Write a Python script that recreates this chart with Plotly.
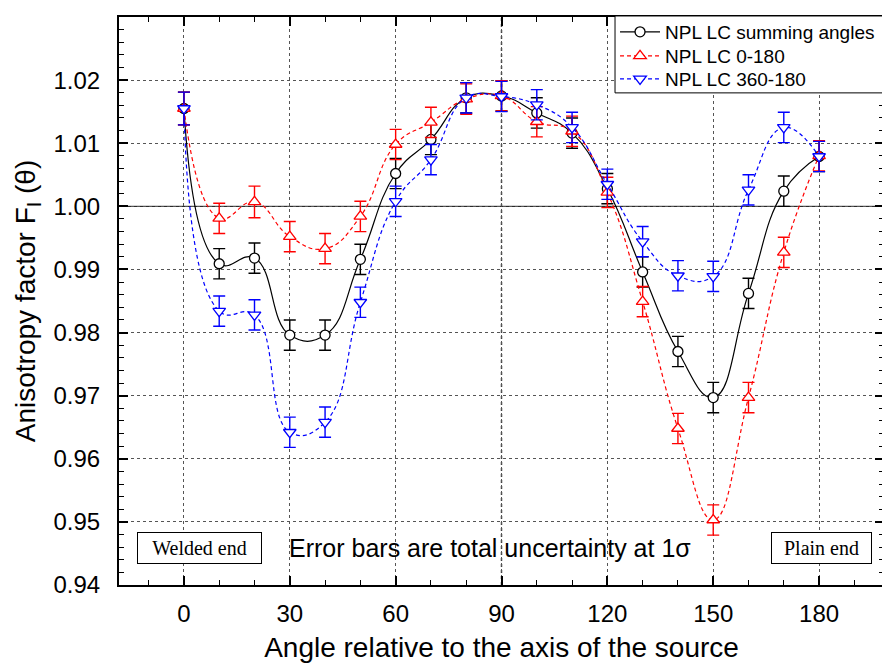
import plotly.graph_objects as go

angles = [0, 10, 20, 30, 40, 50, 60, 70, 80, 90, 100, 110, 120, 130, 140, 150, 160, 170, 180]
summing = [1.0155, 0.9909, 0.9918, 0.9796, 0.9796, 0.9916, 1.0052, 1.0106, 1.0172, 1.0175,
           1.0148, 1.0116, 1.0028, 0.9896, 0.9770, 0.9697, 0.9862, 1.0024, 1.0079]
lc_0_180 = [1.0155, 0.9981, 1.0007, 0.9952, 0.9933, 0.9984, 1.0098, 1.0133, 1.0170, 1.0175,
            1.0134, 1.0119, 1.0022, 0.9849, 0.9648, 0.9503, 0.9697, 0.9927, 1.0080]
lc_360_180 = [1.0155, 0.9834, 0.9828, 0.9642, 0.9658, 0.9848, 1.0008, 1.0074, 1.0172, 1.0174,
              1.0161, 1.0125, 1.0035, 0.9944, 0.9890, 0.9889, 1.0026, 1.0125, 1.0079]
err_summing = [0.0026, 0.0024, 0.0024, 0.0024, 0.0024, 0.0024, 0.0024, 0.0024, 0.0024, 0.0024,
               0.0024, 0.0024, 0.0024, 0.0024, 0.0024, 0.0024, 0.0024, 0.0024, 0.0024]
err_0_180 = [0.0026, 0.0024, 0.0025, 0.0024, 0.0024, 0.0024, 0.0024, 0.0024, 0.0024, 0.0024,
             0.0024, 0.0024, 0.0024, 0.0024, 0.0024, 0.0024, 0.0024, 0.0024, 0.0024]
err_360_180 = [0.0026, 0.0024, 0.0024, 0.0024, 0.0024, 0.0024, 0.0024, 0.0024, 0.0024, 0.0024,
               0.0024, 0.0024, 0.0024, 0.0024, 0.0024, 0.0024, 0.0024, 0.0024, 0.0024]
series_names = ["NPL LC summing angles", "NPL LC 0-180", "NPL LC 360-180"]
x_ticks = [0, 30, 60, 90, 120, 150, 180]
y_ticks = [0.94, 0.95, 0.96, 0.97, 0.98, 0.99, 1.00, 1.01, 1.02, 1.03]

FONT = "Liberation Sans, Arial, sans-serif"
SERIF = "Liberation Serif, Times New Roman, serif"

fig = go.Figure()

specs = [
    (summing, err_summing, series_names[0], "black", "solid", "circle", 10, "legend"),
    (lc_0_180, err_0_180, series_names[1], "#ff0000", "4px,3px", "triangle-up", 11, "legend2"),
    (lc_360_180, err_360_180, series_names[2], "#0000ff", "4px,3px", "triangle-down", 11, "legend3"),
]
for ys, es, name, col, dash, sym, ms, lg in specs:
    fig.add_trace(go.Scatter(
        x=angles, y=ys, name=name, mode="lines+markers", legend=lg,
        line=dict(color=col, width=1.2, dash=dash, shape="spline", smoothing=1.3),
        marker=dict(symbol=sym, size=ms, color="white", line=dict(color=col, width=1.3)),
        error_y=dict(type="data", array=es, visible=True, color=col, thickness=1.4, width=6),
    ))

fig.add_shape(type="line", xref="paper", yref="y", x0=0, x1=1, y0=1.0, y1=1.0,
              line=dict(color="black", width=1), layer="below")
fig.add_shape(type="line", xref="x", yref="paper", x0=90, x1=90, y0=0, y1=1,
              line=dict(color="#444", width=1.5, dash="dot"), layer="below")
# legend frame
fig.add_shape(type="rect", xref="paper", yref="paper", x0=0.6484, x1=1.0, y0=0.8664, y1=1.0018,
              line=dict(color="black", width=1), fillcolor="white", layer="above")

fig.add_annotation(x=4.4, y=0.9458, xref="x", yref="y", text="Welded end", showarrow=False,
                   font=dict(family=SERIF, size=20, color="black"),
                   bordercolor="black", borderwidth=1, borderpad=1, width=121, height=28,
                   bgcolor="white")
fig.add_annotation(x=180.7, y=0.9458, xref="x", yref="y", text="Plain end", showarrow=False,
                   font=dict(family=SERIF, size=20, color="black"),
                   bordercolor="black", borderwidth=1, borderpad=1, width=97, height=28,
                   bgcolor="white")
fig.add_annotation(x=86.7, y=0.9459, xref="x", yref="y",
                   text="Error bars are total uncertainty at 1σ", showarrow=False,
                   font=dict(family=FONT, size=25, color="black"))

leg_common = dict(xanchor="left", yanchor="middle", bgcolor="rgba(0,0,0,0)",
                  borderwidth=0, font=dict(family=FONT, size=19), itemwidth=40)
fig.update_layout(
    width=882, height=664,
    margin=dict(l=111, r=6, t=8, b=87),
    paper_bgcolor="white", plot_bgcolor="white",
    font=dict(family=FONT, color="black"),
    showlegend=True,
    legend=dict(x=0.6484, y=0.9719, **leg_common),
    legend2=dict(x=0.6484, y=0.9297, **leg_common),
    legend3=dict(x=0.6484, y=0.8893, **leg_common),
)
fig.update_xaxes(
    range=[-18.4, 198.4], tickmode="array", tickvals=x_ticks,
    ticktext=[str(v) for v in x_ticks],
    ticks="inside", ticklen=9, tickwidth=1.5, tickcolor="black",
    minor=dict(dtick=10, tick0=0, ticks="inside", ticklen=5, tickwidth=1.2, tickcolor="black",
               showgrid=False),
    showline=True, linecolor="black", linewidth=2, mirror="allticks",
    showgrid=True, gridcolor="#555", griddash="dot", gridwidth=1,
    zeroline=False, automargin=False,
    tickfont=dict(family=FONT, size=24), ticklabelstandoff=6,
    title=dict(text="Angle relative to the axis of the source",
               font=dict(family=FONT, size=28), standoff=12),
)
fig.update_yaxes(
    range=[0.94, 1.03], tickmode="array", tickvals=y_ticks,
    ticktext=[f"{v:.2f}" for v in y_ticks],
    ticks="inside", ticklen=9, tickwidth=1.5, tickcolor="black",
    minor=dict(dtick=0.002, tick0=0.94, ticks="inside", ticklen=5, tickwidth=1.2,
               tickcolor="black", showgrid=False),
    showline=True, linecolor="black", linewidth=2, mirror="allticks",
    showgrid=True, gridcolor="#555", griddash="dot", gridwidth=1,
    zeroline=False, automargin=False,
    tickfont=dict(family=FONT, size=24), ticklabelstandoff=12,
    title=dict(text="Anisotropy factor F<sub>I</sub> (θ)",
               font=dict(family=FONT, size=28), standoff=10),
)

fig.write_html("out.html")
